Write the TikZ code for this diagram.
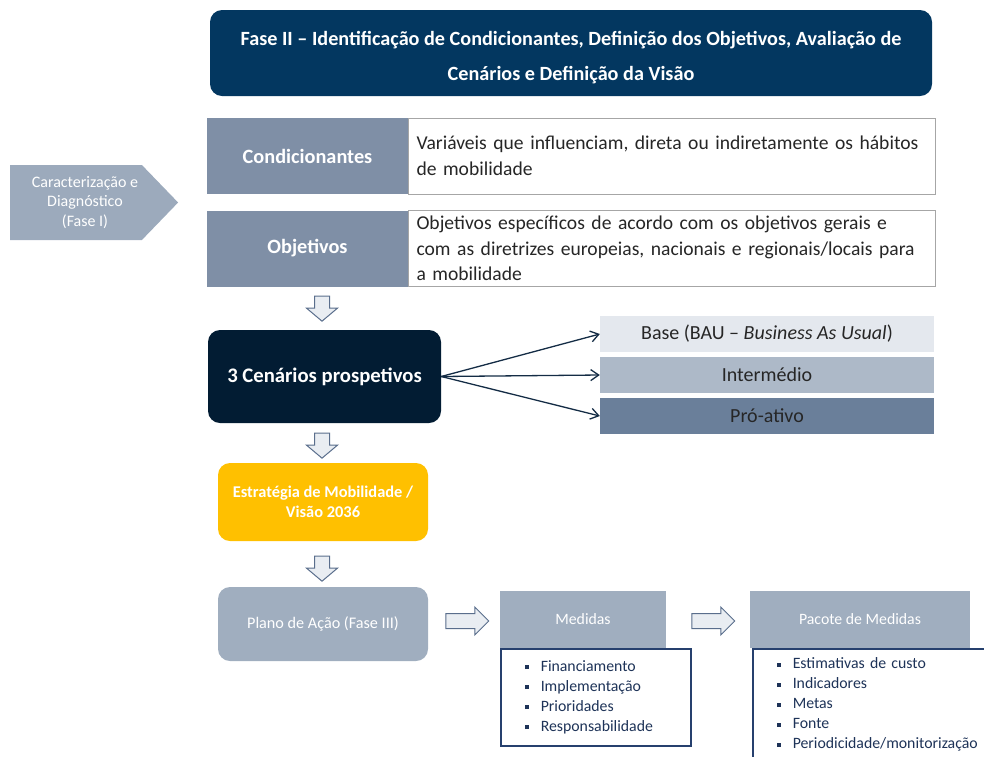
\documentclass[tikz,border=0pt]{standalone}
\usepackage{fontspec}
\setmainfont{Carlito}
\usetikzlibrary{shapes.arrows,shapes.symbols,arrows.meta}

\definecolor{navyhead}{RGB}{3,55,96}
\definecolor{slatebox}{RGB}{127,143,166}
\definecolor{greyarrow}{RGB}{156,170,188}
\definecolor{darkscen}{RGB}{2,28,51}
\definecolor{optbase}{RGB}{228,232,238}
\definecolor{optmid}{RGB}{173,185,200}
\definecolor{optpro}{RGB}{106,127,154}
\definecolor{yellowbox}{RGB}{255,192,0}
\definecolor{planbox}{RGB}{160,174,191}
\definecolor{listline}{RGB}{38,64,110}
\definecolor{blockfill}{RGB}{233,237,242}
\definecolor{blockline}{RGB}{90,110,140}
\definecolor{textdark}{RGB}{38,38,38}

\newcommand{\sqbul}{\raisebox{0.3ex}{\rule{4pt}{4pt}}\hspace{12pt}}

\begin{document}
\begin{tikzpicture}[x=1pt, y=-1pt,
	roundbox/.style={rectangle, rounded corners=12pt, inner sep=2pt, align=center, text=white},
	labelbox/.style={rectangle, fill=slatebox, text=white, minimum width=201pt, minimum height=76pt, inner sep=0pt,
		font=\fontsize{20.3}{24}\selectfont\bfseries},
	descbox/.style={rectangle, draw=gray!70, line width=0.8pt, fill=white, text=textdark, text width=510pt,
		inner xsep=8.5pt, inner ysep=0pt, minimum height=76pt, align=left, font=\fontsize{19.6}{25.5}\selectfont},
	optbox/.style={rectangle, minimum width=334pt, minimum height=36pt, inner sep=0pt, text=textdark,
		font=\fontsize{20}{24}\selectfont},
	headbox/.style={rectangle, fill=planbox, text=white, minimum height=57pt, inner sep=0pt,
		font=\fontsize{15.8}{19}\selectfont},
	listbox/.style={rectangle, draw=listline, line width=1.5pt, fill=white, text=listline!80!black, align=left,
		anchor=north west, inner xsep=24pt, inner ysep=0pt, font=\fontsize{15.8}{20}\selectfont},
	downarrow/.style={single arrow, shape border rotate=270, draw=blockline, fill=blockfill, line width=1pt,
		minimum height=25pt, single arrow head extend=8pt, single arrow tip angle=100, inner sep=7pt},
	rightarrow/.style={single arrow, draw=blockline, fill=blockfill, line width=1pt,
		minimum height=43pt, single arrow head extend=6.5pt, inner sep=7pt},
	scenarrow/.style={-{Straight Barb[length=8pt,width=11pt]}, draw=darkscen!80!blockline, line width=1.3pt},
	]

	\clip (0,0) rectangle (984,756);

	%-----------------------
	% Title
	%-----------------------
	\node[roundbox, fill=navyhead, minimum width=722pt, minimum height=86pt,
		font=\fontsize{20.2}{35}\selectfont\bfseries] (fase2) at (571,53)
		{\rule{0pt}{24pt}Fase II -- Identificação de Condicionantes, Definição dos Objetivos, Avaliação de\\
		Cenários e Definição da Visão};

	%-----------------------
	% Phase I input
	%-----------------------
	\node[signal, signal to=east, signal pointer angle=92, fill=greyarrow,
		minimum width=168pt, minimum height=75pt, inner sep=0pt,
		label={[xshift=9pt, text=white, align=center, font=\fontsize{16}{19.5}\selectfont]center:%
		Caracterização e\\Diagnóstico\\(Fase I)}] (fase1) at (76,202.5) {};

	%-----------------------
	% Condicionantes / Objetivos
	%-----------------------
	\node[labelbox] (cond) at (307.5,156) {Condicionantes};
	\node[descbox] (conddesc) at (671.5,156)
		{Variáveis que influenciam, direta ou indiretamente os hábitos\\de mobilidade};

	\node[labelbox] (obj) at (307.5,248.5) {Objetivos};
	\node[descbox] (objdesc) at (671.5,248.5)
		{Objetivos específicos de acordo com os objetivos gerais e\\
		com as diretrizes europeias, nacionais e regionais/locais para\\
		a mobilidade};

	\node[downarrow] (down1) at (322,305.5) {};

	%-----------------------
	% Scenarios
	%-----------------------
	\node[roundbox, fill=darkscen, minimum width=233pt, minimum height=93pt,
		font=\fontsize{20.7}{24}\selectfont\bfseries] (cen) at (324.5,376.5) {3 Cenários prospetivos};

	\node[optbox, fill=optbase] (base) at (767,334) {Base (BAU -- \textit{Business As Usual})};
	\node[optbox, fill=optmid] (inter) at (767,375) {Intermédio};
	\node[optbox, fill=optpro] (proat) at (767,416) {Pró-ativo};

	\draw[scenarrow] (cen.east) -- (base.west);
	\draw[scenarrow] (cen.east) -- (inter.west);
	\draw[scenarrow] (cen.east) -- (proat.west);

	\node[downarrow] (down2) at (322,442.5) {};

	%-----------------------
	% Strategy / Vision
	%-----------------------
	\node[roundbox, fill=yellowbox, minimum width=210pt, minimum height=78pt,
		font=\fontsize{16.4}{19.5}\selectfont\bfseries] (estr) at (323,502) {Estratégia de Mobilidade /\\Visão 2036};

	\node[downarrow] (down3) at (322,565.5) {};

	%-----------------------
	% Action plan
	%-----------------------
	\node[roundbox, fill=planbox, minimum width=210pt, minimum height=74pt,
		font=\fontsize{16.2}{19}\selectfont] (plano) at (323,624) {Plano de Ação (Fase III)};

	\node[rightarrow] (right1) at (463.5,621) {};

	\node[headbox, minimum width=166pt] (med) at (583,619.5) {Medidas};
	\node[listbox, text width=142pt, minimum height=97pt] (medlist) at (500,648)
		{\sqbul Financiamento\\\sqbul Implementação\\\sqbul Prioridades\\\sqbul Responsabilidade};

	\node[rightarrow] (right2) at (709.5,621) {};

	\node[headbox, minimum width=220pt] (pac) at (860,619.5) {Pacote de Medidas};
	\node[listbox, text width=210pt, minimum height=112pt] (paclist) at (752,648)
		{\sqbul Estimativas de custo\\\sqbul Indicadores\\\sqbul Metas\\\sqbul Fonte\\\sqbul Periodicidade/monitorização};

\end{tikzpicture}
\end{document}
